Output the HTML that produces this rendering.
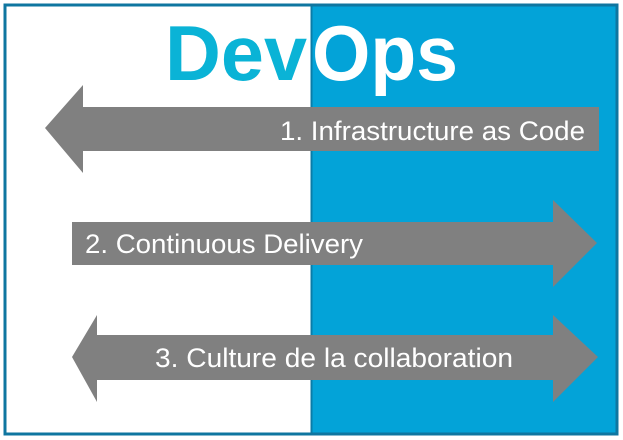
<!DOCTYPE html>
<html><head><meta charset="utf-8"><style>
html,body{margin:0;padding:0;background:#fff;}
svg{display:block;}
</style></head><body>
<svg width="623" height="440" viewBox="0 0 623 440" xmlns="http://www.w3.org/2000/svg">
<rect x="0" y="0" width="623" height="440" fill="#fff"/>
<rect x="311" y="5" width="307" height="429" fill="#03a3d8"/>
<line x1="311.5" y1="5" x2="311.5" y2="434" stroke="#0a7ca8" stroke-width="2"/>
<rect x="5" y="5" width="612" height="429" fill="none" stroke="#0f76a0" stroke-width="3"/>
<text x="165" y="80" font-family="Liberation Sans, sans-serif" font-weight="bold" font-size="78" fill="#0ab3d6" textLength="142" lengthAdjust="spacingAndGlyphs">Dev</text>
<text x="312" y="80" font-family="Liberation Sans, sans-serif" font-weight="bold" font-size="78" fill="#fff" textLength="146" lengthAdjust="spacingAndGlyphs">Ops</text>
<polygon points="45,128 83,85 83,107 599,107 599,151 83,151 83,173" fill="#808080"/>
<polygon points="72,222 553,222 553,200 597,243 553,287 553,265 72,265" fill="#808080"/>
<polygon points="72,357 97,315 97,335 553,335 553,315 598,357 553,402 553,380 97,380 97,402" fill="#808080"/>
<g font-family="Liberation Sans, sans-serif" font-size="27" fill="#fff">
<text x="280" y="140" textLength="305" lengthAdjust="spacingAndGlyphs">1. Infrastructure as Code</text>
<text x="85" y="253" textLength="278" lengthAdjust="spacingAndGlyphs">2. Continuous Delivery</text>
<text x="155" y="367" textLength="358" lengthAdjust="spacingAndGlyphs">3. Culture de la collaboration</text>
</g>
</svg>
</body></html>
